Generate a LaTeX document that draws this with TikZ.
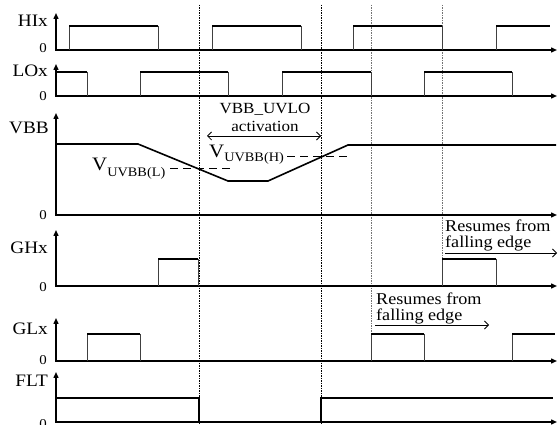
\documentclass[tikz,border=0pt]{standalone}
\usepackage{fontspec}
\setmainfont{Liberation Serif}[FakeStretch=1.1]
\usetikzlibrary{arrows.meta}
\begin{document}
\begin{tikzpicture}[x=1pt,y=-1pt,
 axis/.style={line width=1.4pt, {Triangle[length=6pt,width=5pt]}-{Triangle[length=6pt,width=5pt]}},
 hi/.style={line width=1.6pt},
 edge/.style={line width=0.7pt, black!75},
 guide/.style={line width=0.5pt, dash pattern=on 1.5pt off 1pt},
 guideg/.style={line width=0.5pt, dash pattern=on 1.5pt off 1pt, black!55},
 lbl/.style={font=\fontsize{17.5}{17.5}\selectfont, anchor=east, inner sep=0pt},
 zero/.style={font=\fontsize{13.5}{13.5}\selectfont, anchor=east, inner sep=0pt},
 note/.style={font=\fontsize{16.5}{16}\selectfont, align=left, inner sep=0pt},
 thr/.style={line width=0.9pt, dash pattern=on 8pt off 5pt},
 open/.style={line width=0.8pt, -{Straight Barb[length=4pt,width=8pt]}},
 both/.style={line width=0.8pt, {Straight Barb[length=4pt,width=8pt]}-{Straight Barb[length=4pt,width=8pt]}},
]
\useasboundingbox (0,0) rectangle (558,425);
% guide lines
\draw[guide] (199,5) -- (199,425);
\draw[guide] (321,5) -- (321,425);
\draw[guideg] (371,5) -- (371,334);
\draw[guideg] (442,5) -- (442,259);
% axes
\draw[axis] (56,13) -- (56,50) -- (557,50);
\draw[axis] (56,64) -- (56,96) -- (557,96);
\draw[axis] (56,113) -- (56,215) -- (557,215);
\draw[axis] (56,230) -- (56,286) -- (557,286);
\draw[axis] (56,318) -- (56,361) -- (557,361);
\draw[axis] (56,372) -- (56,422) -- (557,422);
% labels
\node[lbl] (lhi) at (48,21) {HIx};
\node[zero] (zhi) at (47,48) {0};
\node[lbl] (llo) at (48,71) {LOx};
\node[zero] (zlo) at (47,96) {0};
\node[lbl] (lvbb) at (49,128) {VBB};
\node[zero] (zvbb) at (47,215) {0};
\node[lbl] (lgh) at (48,248) {GHx};
\node[zero] (zgh) at (47,287) {0};
\node[lbl] (lgl) at (48,329) {GLx};
\node[zero] (zgl) at (47,360) {0};
\node[lbl] (lflt) at (48,381) {FLT};
\node[zero] (zflt) at (47,424) {0};
% HIx
\foreach \a/\b in {69/158,212/301,353/442}{
  \draw[edge] (\a,50) -- (\a,26); \draw[hi] (\a,26) -- (\b,26); \draw[edge] (\b,26) -- (\b,50);}
\draw[edge] (496,50) -- (496,26); \draw[hi] (496,26) -- (550,26);
% LOx
\draw[hi] (56,72) -- (87,72); \draw[edge] (87,72) -- (87,96);
\foreach \a/\b in {140/228,282/371,424/512}{
  \draw[edge] (\a,96) -- (\a,72); \draw[hi] (\a,72) -- (\b,72); \draw[edge] (\b,72) -- (\b,96);}
% VBB
\draw[hi] (56,144) -- (138,144) -- (228,181) -- (268,181) -- (348,145) -- (556,145);
\draw[thr] (170,168) -- (233,168);
\draw[thr] (287,156) -- (349,156);
\node[inner sep=0pt, anchor=base west] (vl) at (92,171) {\fontsize{19}{19}\selectfont V\raisebox{-6pt}{\fontsize{13}{13}\selectfont UVBB(L)}};
\node[inner sep=0pt, anchor=base west] (vh) at (209,158) {\fontsize{19}{19}\selectfont V\raisebox{-4pt}{\fontsize{13}{13}\selectfont UVBB(H)}};
\node[font=\fontsize{15.5}{18}\selectfont, align=center, inner sep=0pt] (uvlo) at (265,117) {VBB\_UVLO\\activation};
\coordinate (ua) at (207,136);
\coordinate (ub) at (321,136);
\draw[both] (ua) -- (ub);
% GHx
\foreach \a/\b in {158/198,442/496}{
  \draw[edge] (\a,286) -- (\a,259); \draw[hi] (\a,259) -- (\b,259); \draw[edge] (\b,259) -- (\b,286);}
\node[note, anchor=west] (rgh) at (445,235) {Resumes from\\falling edge};
\coordinate (gha) at (445,253);
\coordinate (ghb) at (557,253);
\draw[open] (gha) -- (ghb);
% GLx
\foreach \a/\b in {87/140,371/424}{
  \draw[edge] (\a,361) -- (\a,334); \draw[hi] (\a,334) -- (\b,334); \draw[edge] (\b,334) -- (\b,361);}
\draw[edge] (512,361) -- (512,334); \draw[hi] (512,334) -- (555,334);
\node[note, anchor=west] (rgl) at (376,308) {Resumes from\\falling edge};
\coordinate (gla) at (375,325);
\coordinate (glb) at (489,325);
\draw[open] (gla) -- (glb);
% FLT
\draw[hi] (56,398) -- (199,398) -- (199,422);
\draw[hi] (321,422) -- (321,398) -- (553,398);
\end{tikzpicture}
\end{document}
